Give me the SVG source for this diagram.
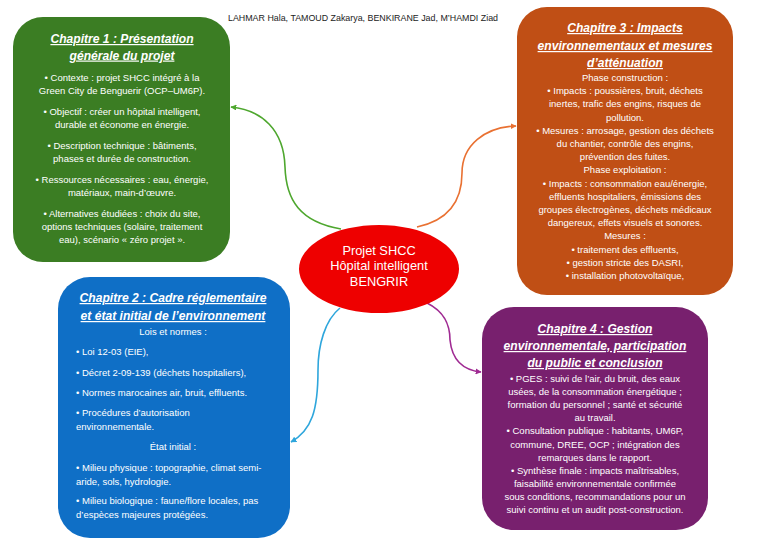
<svg xmlns="http://www.w3.org/2000/svg" width="768" height="543" viewBox="0 0 768 543">
<defs>
<style>
text{font-family:"Liberation Sans","DejaVu Sans",sans-serif;fill:#fff;text-anchor:middle}
.t{font-size:12.1px;font-weight:bold;font-style:italic;text-decoration:underline}
.b{font-size:9.5px}
.l{text-anchor:start}
.auth{fill:#222;font-size:9.2px;text-anchor:start}
.e{font-size:12.8px}
.c{fill:none;stroke-width:1.6}
</style>
<marker id="ag" viewBox="0 0 10 10" refX="9" refY="5" markerWidth="6" markerHeight="6" markerUnits="userSpaceOnUse" orient="auto"><path d="M0,0 L10,5 L0,10 z" fill="#4ea72e"/></marker>
<marker id="ao" viewBox="0 0 10 10" refX="9" refY="5" markerWidth="6" markerHeight="6" markerUnits="userSpaceOnUse" orient="auto"><path d="M0,0 L10,5 L0,10 z" fill="#e97132"/></marker>
<marker id="ab" viewBox="0 0 10 10" refX="9" refY="5" markerWidth="6" markerHeight="6" markerUnits="userSpaceOnUse" orient="auto"><path d="M0,0 L10,5 L0,10 z" fill="#2ea6dc"/></marker>
<marker id="ap" viewBox="0 0 10 10" refX="9" refY="5" markerWidth="6" markerHeight="6" markerUnits="userSpaceOnUse" orient="auto"><path d="M0,0 L10,5 L0,10 z" fill="#a02b93"/></marker>
</defs>
<rect width="768" height="543" fill="#fff"/>
<text class="auth" x="228" y="20.5" textLength="270" lengthAdjust="spacingAndGlyphs">LAHMAR Hala, TAMOUD Zakarya, BENKIRANE Jad, M’HAMDI Ziad</text>

<g id="connectors">
<path class="c" stroke="#4ea72e" marker-end="url(#ag)" d="M341,229 C300,222 286,200 285,167 C284,130 262,110 231,107"/>
<path class="c" stroke="#e97132" marker-end="url(#ao)" d="M417,227 C450,220 462,200 462,173 C462,145 485,127 516,126"/>
<path class="c" stroke="#2ea6dc" marker-end="url(#ab)" d="M340,308 C325,320 318,345 318,370 C318,410 312,430 291,442"/>
<path class="c" stroke="#a02b93" marker-end="url(#ap)" d="M427,303 C445,312 450,325 450,340 C452,360 462,370 481,372"/>
</g>

<g id="ch1">
<rect x="13" y="17" width="217" height="245" rx="30" fill="#3b7d23"/>
<text class="t" x="122" y="43">Chapitre 1 : Présentation</text>
<text class="t" x="122" y="59.5">générale du projet</text>
<text class="b" x="122" y="81">• Contexte : projet SHCC intégré à la</text>
<text class="b" x="122" y="94">Green City de Benguerir (OCP–UM6P).</text>
<text class="b" x="122" y="115">• Objectif : créer un hôpital intelligent,</text>
<text class="b" x="122" y="128">durable et économe en énergie.</text>
<text class="b" x="122" y="149">• Description technique : bâtiments,</text>
<text class="b" x="122" y="162">phases et durée de construction.</text>
<text class="b" x="122" y="183">• Ressources nécessaires : eau, énergie,</text>
<text class="b" x="122" y="196">matériaux, main-d’œuvre.</text>
<text class="b" x="122" y="217">• Alternatives étudiées : choix du site,</text>
<text class="b" x="122" y="230">options techniques (solaire, traitement</text>
<text class="b" x="122" y="243">eau), scénario « zéro projet ».</text>
</g>

<g id="ch3">
<rect x="517" y="7" width="216" height="288" rx="30" fill="#c04f15"/>
<text class="t" x="625" y="32">Chapitre 3 : Impacts</text>
<text class="t" x="625" y="50">environnementaux et mesures</text>
<text class="t" x="625" y="67">d’atténuation</text>
<text class="b" x="625" y="81">Phase construction :</text>
<text class="b" x="625" y="94.2">• Impacts : poussières, bruit, déchets</text>
<text class="b" x="625" y="107.4">inertes, trafic des engins, risques de</text>
<text class="b" x="625" y="120.6">pollution.</text>
<text class="b" x="625" y="133.8">• Mesures : arrosage, gestion des déchets</text>
<text class="b" x="625" y="147">du chantier, contrôle des engins,</text>
<text class="b" x="625" y="160.2">prévention des fuites.</text>
<text class="b" x="625" y="173.4">Phase exploitation :</text>
<text class="b" x="625" y="186.6">• Impacts : consommation eau/énergie,</text>
<text class="b" x="625" y="199.8">effluents hospitaliers, émissions des</text>
<text class="b" x="625" y="213">groupes électrogènes, déchets médicaux</text>
<text class="b" x="625" y="226.2">dangereux, effets visuels et sonores.</text>
<text class="b" x="625" y="239.4">Mesures :</text>
<text class="b" x="625" y="252.6">• traitement des effluents,</text>
<text class="b" x="625" y="265.8">• gestion stricte des DASRI,</text>
<text class="b" x="625" y="279">• installation photovoltaïque,</text>
</g>

<g id="ch2">
<rect x="58" y="277" width="232" height="261" rx="32" fill="#0f6fc6"/>
<text class="t" x="173" y="302">Chapitre 2 : Cadre réglementaire</text>
<text class="t" x="173" y="320">et état initial de l’environnement</text>
<text class="b" x="173" y="335">Lois et normes :</text>
<text class="b l" x="76" y="355">• Loi 12-03 (EIE),</text>
<text class="b l" x="76" y="376">• Décret 2-09-139 (déchets hospitaliers),</text>
<text class="b l" x="76" y="396">• Normes marocaines air, bruit, effluents.</text>
<text class="b l" x="76" y="416">• Procédures d’autorisation</text>
<text class="b l" x="76" y="430">environnementale.</text>
<text class="b" x="173" y="450">État initial :</text>
<text class="b l" x="76" y="471">• Milieu physique : topographie, climat semi-</text>
<text class="b l" x="76" y="485">aride, sols, hydrologie.</text>
<text class="b l" x="76" y="504">• Milieu biologique : faune/flore locales, pas</text>
<text class="b l" x="76" y="518">d’espèces majeures protégées.</text>
</g>

<g id="ch4">
<rect x="482" y="307" width="226" height="223" rx="32" fill="#78206e"/>
<text class="t" x="595" y="333">Chapitre 4 : Gestion</text>
<text class="t" x="595" y="350">environnementale, participation</text>
<text class="t" x="595" y="367">du public et conclusion</text>
<text class="b" x="595" y="382">• PGES : suivi de l’air, du bruit, des eaux</text>
<text class="b" x="595" y="395">usées, de la consommation énergétique ;</text>
<text class="b" x="595" y="408">formation du personnel ; santé et sécurité</text>
<text class="b" x="595" y="421">au travail.</text>
<text class="b" x="595" y="434">• Consultation publique : habitants, UM6P,</text>
<text class="b" x="595" y="447.5">commune, DREE, OCP ; intégration des</text>
<text class="b" x="595" y="460.6">remarques dans le rapport.</text>
<text class="b" x="595" y="473.7">• Synthèse finale : impacts maîtrisables,</text>
<text class="b" x="595" y="486.8">faisabilité environnementale confirmée</text>
<text class="b" x="595" y="500">sous conditions, recommandations pour un</text>
<text class="b" x="595" y="513">suivi continu et un audit post-construction.</text>
</g>

<g id="center">
<ellipse cx="379" cy="269" rx="80" ry="44" fill="#ee0000"/>
<text class="e" x="379" y="254.5">Projet SHCC</text>
<text class="e" x="379" y="270">Hôpital intelligent</text>
<text class="e" x="379" y="285.5">BENGRIR</text>
</g>
</svg>
